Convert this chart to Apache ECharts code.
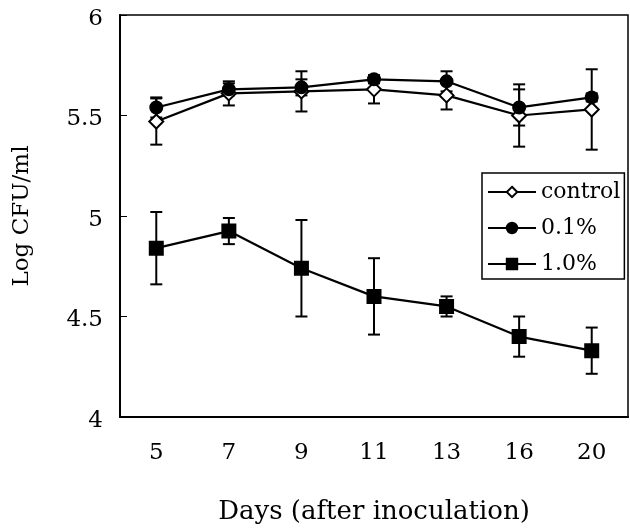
<!DOCTYPE html>
<html>
<head>
    <meta charset="utf-8">
    <title>Log CFU/ml</title>
    <script src="https://cdn.jsdelivr.net/npm/echarts@6/dist/echarts.min.js"></script>
    <style>
        html, body { margin: 0; padding: 0; background: #fff; }
        #main { width: 630px; height: 528px; }
    </style>
</head>
<body>
<div id="main"></div>
<script>
    var days = ['5', '7', '9', '11', '13', '16', '20'];
    var yTicks = [4, 4.5, 5, 5.5, 6];

    // mean values
    var control = [5.47, 5.61, 5.62, 5.63, 5.60, 5.50, 5.53];
    var pct01 = [5.54, 5.63, 5.64, 5.68, 5.67, 5.54, 5.59];
    var pct10 = [4.84, 4.925, 4.74, 4.60, 4.55, 4.40, 4.33];

    // error bar half-widths
    var controlErr = [0.115, 0.06, 0.10, 0.07, 0.07, 0.155, 0.20];
    var pct01Err = [0.05, 0.03, 0.04, 0.02, 0.05, 0.09, 0.02];
    var pct10Err = [0.18, 0.065, 0.24, 0.19, 0.05, 0.10, 0.115];

    var serif = 'DejaVu Serif';

    function errData(vals, errs) {
        return vals.map(function (v, i) {
            return [i, v - errs[i], v + errs[i]];
        });
    }

    function renderErr(params, api) {
        var lo = api.coord([api.value(0), api.value(1)]);
        var hi = api.coord([api.value(0), api.value(2)]);
        var w = 6;
        var st = { stroke: '#000', lineWidth: 2 };
        return {
            type: 'group',
            children: [
                { type: 'line', shape: { x1: lo[0], y1: lo[1], x2: hi[0], y2: hi[1] }, style: st },
                { type: 'line', shape: { x1: lo[0] - w, y1: lo[1], x2: lo[0] + w, y2: lo[1] }, style: st },
                { type: 'line', shape: { x1: hi[0] - w, y1: hi[1], x2: hi[0] + w, y2: hi[1] }, style: st }
            ]
        };
    }

    function errSeries(vals, errs) {
        return {
            type: 'custom',
            renderItem: renderErr,
            data: errData(vals, errs),
            encode: { x: 0, y: [1, 2] },
            silent: true,
            z: 1
        };
    }

    function lineSeries(name, vals, symbol, size) {
        return {
            name: name,
            type: 'line',
            data: vals,
            symbol: symbol,
            symbolSize: size,
            lineStyle: { color: '#000', width: 2.2 },
            itemStyle: { color: '#000', borderColor: '#000', borderWidth: 2 },
            z: 3
        };
    }

    var chart = echarts.init(document.getElementById('main'));
    chart.setOption({
        animation: false,
        backgroundColor: '#fff',
        grid: {
            left: 120, top: 15, width: 508, height: 402,
            outerBoundsMode: 'none',
            containLabel: false,
            show: true, borderColor: '#000', borderWidth: 1.5
        },
        legend: {
            left: 482, top: 173,
            orient: 'vertical',
            data: ['control', '0.1%', '1.0%'],
            itemWidth: 48, itemHeight: 13, itemGap: 14,
            padding: [8, 4, 4, 5],
            borderColor: '#000', borderWidth: 1.5,
            textStyle: { fontFamily: serif, fontSize: 22, color: '#000' }
        },
        xAxis: {
            type: 'category',
            data: days,
            name: 'Days (after inoculation)',
            nameLocation: 'middle',
            nameGap: 82,
            nameTextStyle: { fontFamily: serif, fontSize: 26, color: '#000' },
            axisLine: { lineStyle: { color: '#000', width: 2 } },
            axisTick: { inside: true, length: 7, lineStyle: { color: '#000', width: 1 } },
            axisLabel: { fontFamily: serif, fontSize: 23, color: '#000', margin: 25 }
        },
        yAxis: {
            type: 'value',
            min: yTicks[0], max: yTicks[yTicks.length - 1], interval: 0.5,
            name: 'Log CFU/ml',
            nameLocation: 'middle',
            nameGap: 86,
            nameTextStyle: { fontFamily: serif, fontSize: 23, color: '#000' },
            axisLine: { show: true, lineStyle: { color: '#000', width: 2 } },
            axisTick: { show: true, inside: true, length: 7, lineStyle: { color: '#000', width: 1 } },
            splitLine: { show: false },
            axisLabel: {
                fontFamily: serif, fontSize: 23, color: '#000', margin: 17,
                verticalAlign: 'top', lineHeight: 8
            }
        },
        series: [
            errSeries(control, controlErr),
            errSeries(pct01, pct01Err),
            errSeries(pct10, pct10Err),
            lineSeries('control', control, 'emptyDiamond', 14),
            lineSeries('0.1%', pct01, 'circle', 12),
            lineSeries('1.0%', pct10, 'rect', 13)
        ]
    });
</script>
</body>
</html>
